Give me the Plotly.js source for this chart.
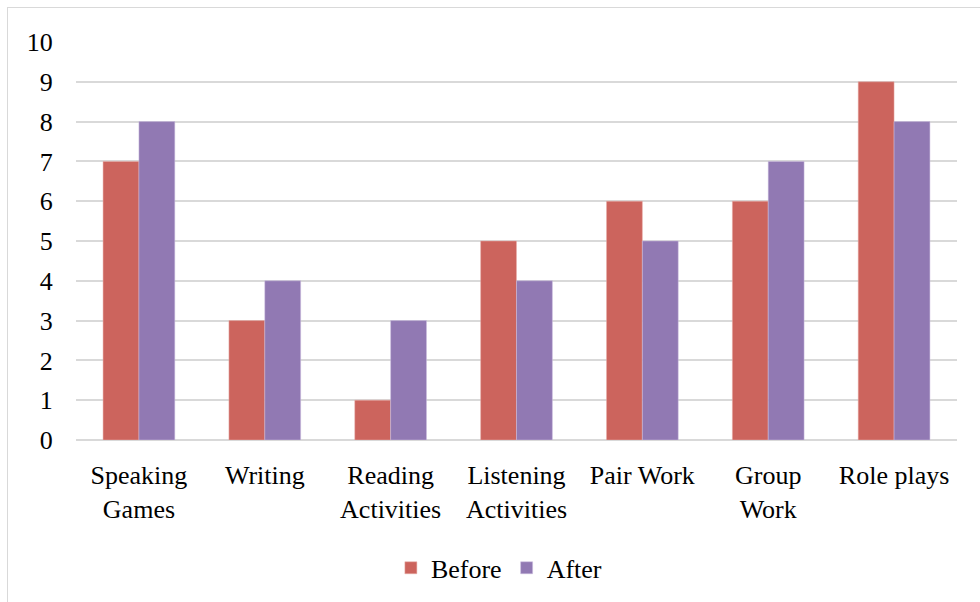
<!DOCTYPE html>
<html><head><meta charset="utf-8">
<script src="https://cdn.plot.ly/plotly-3.0.1.min.js"></script>
<style>
html,body{margin:0;padding:0;background:#fff;}
#wrap{position:relative;width:980px;height:602px;overflow:hidden;}
#chart{position:absolute;left:0;top:0;width:980px;height:602px;}
#border{position:absolute;left:7px;top:7px;width:1000px;height:620px;border:1px solid #d9d9d9;pointer-events:none;}
</style></head>
<body><div id="wrap"><div id="chart"></div><div id="border"></div></div>
<script>
const categories = ["Speaking<br>Games","Writing","Reading<br>Activities","Listening<br>Activities","Pair Work","Group<br>Work","Role plays"];
const beforeValues = [7,3,1,5,6,6,9];
const afterValues = [8,4,3,4,5,7,8];
const yTicks = [0,1,2,3,4,5,6,7,8,9,10];

function F(){ return {family:'Liberation Serif', size:26, color:'#000'}; }
const data = [
  {type:'bar', name:'Before', x:categories, y:beforeValues, marker:{color:'#cc645d', line:{color:'#e8b0ac', width:0.5}}},
  {type:'bar', name:'After', x:categories, y:afterValues, marker:{color:'#9179b3', line:{color:'#cdbfe0', width:0.5}}}
];
const layout = {
  width:980, height:602,
  margin:{l:76, r:23, t:42, b:161},
  paper_bgcolor:'rgba(0,0,0,0)', plot_bgcolor:'#fff',
  font:F(),
  barmode:'group', bargap:0.43, bargroupgap:0,
  showlegend:true,
  legend:{orientation:'h', x:0.48, xanchor:'center', y:-0.318, yanchor:'middle', font:F(), itemwidth:20, traceorder:'normal'},
  xaxis:{type:'category', showgrid:false, showline:false, zeroline:false,
    ticks:'outside', ticklen:12, tickcolor:'rgba(0,0,0,0)', tickfont:F(), fixedrange:true},
  yaxis:{range:[0,10], tickvals:yTicks, ticktext:yTicks.map(String), showgrid:true, gridcolor:'#d9d9d9', gridwidth:2,
    zeroline:true, zerolinecolor:'#d9d9d9', zerolinewidth:2, showline:false,
    ticks:'outside', ticklen:17, tickcolor:'rgba(0,0,0,0)', tickfont:F(), fixedrange:true}
};
Plotly.newPlot('chart', data, layout, {displayModeBar:false, staticPlot:true});
</script></body></html>
